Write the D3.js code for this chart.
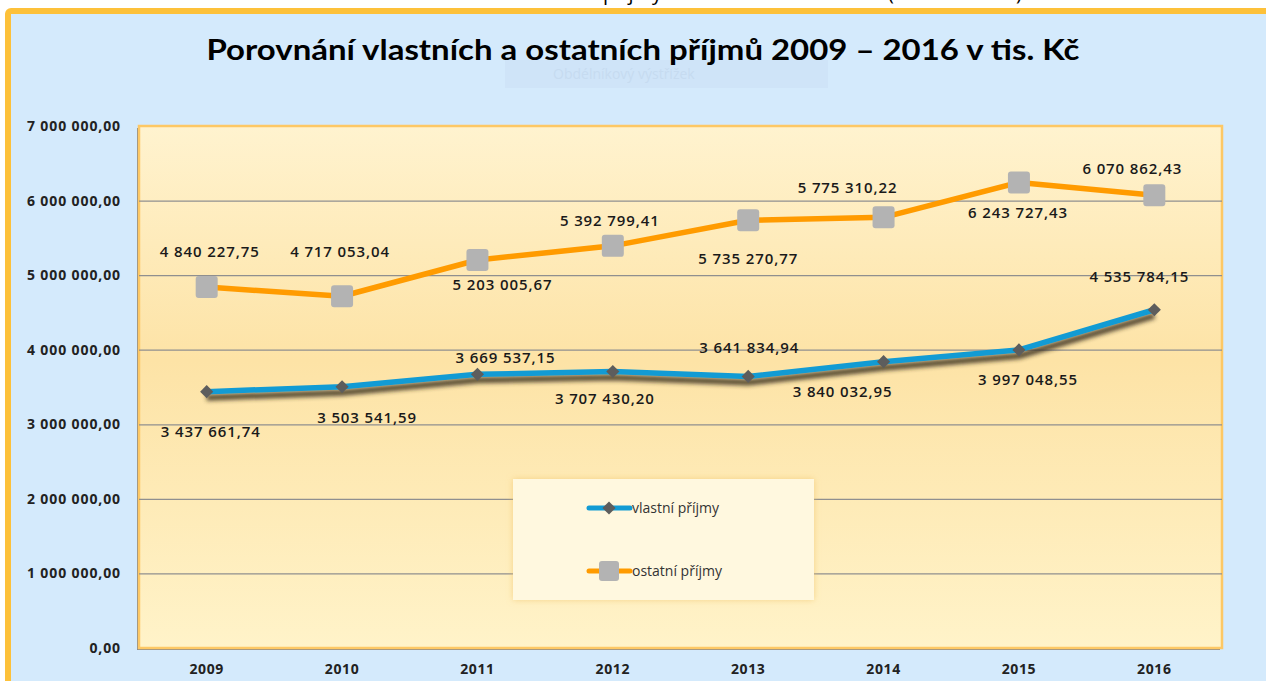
<!DOCTYPE html>
<html>
<head>
<meta charset="utf-8">
<script src="https://cdn.jsdelivr.net/npm/d3@7"></script>
<style>
  html, body { margin: 0; padding: 0; background: #fff; }
  svg { display: block; font-family: "Open Sans", sans-serif; }
</style>
</head>
<body>
<script>
// data
var years = ["2009", "2010", "2011", "2012", "2013", "2014", "2015", "2016"]
var vlastni = [3437661.74, 3503541.59, 3669537.15, 3707430.20, 3641834.94, 3840032.95, 3997048.55, 4535784.15]
var ostatni = [4840227.75, 4717053.04, 5203005.67, 5392799.41, 5735270.77, 5775310.22, 6243727.43, 6070862.43]
var yTicks = [0, 1000000, 2000000, 3000000, 4000000, 5000000, 6000000, 7000000]
var seriesNames = ["vlastní příjmy", "ostatní příjmy"]

// label nudges (layout only)
var vlastniLabelDx = [4, 25, 28, -8, 1, -41, 9, -15]
var vlastniLabelDy = [40, 31, -17, 27, -29, 30, 30, -33]
var ostatniLabelDx = [3, -2, 25, -3, 0, -36, -1, -22]
var ostatniLabelDy = [-35, -44, 25, -25, 38, -30, 30, -27]

var W = 1266, H = 681
var plot = {left: 139, top: 126, right: 1222, bottom: 648}

var fmt = d3.formatLocale({decimal: ",", thousands: " ", grouping: [3], currency: ["", ""]}).format(",.2f")

var svg = d3.select("body").append("svg")
    .attr("width", W)
    .attr("height", H)

var defs = svg.append("defs")

var grad = defs.append("linearGradient")
    .attr("id", "plotGrad")
    .attr("x1", 0).attr("y1", 0).attr("x2", 0).attr("y2", 1)
grad.append("stop").attr("offset", "0%").attr("stop-color", "#fff3cf")
grad.append("stop").attr("offset", "45%").attr("stop-color", "#fde3a6")
grad.append("stop").attr("offset", "100%").attr("stop-color", "#fff3c9")

var blur = defs.append("filter").attr("id", "lineShadow")
    .attr("x", "-10%").attr("y", "-50%").attr("width", "120%").attr("height", "200%")
blur.append("feGaussianBlur").attr("stdDeviation", 2.2)

var boxShadow = defs.append("filter").attr("id", "boxShadow")
    .attr("x", "-10%").attr("y", "-10%").attr("width", "120%").attr("height", "120%")
boxShadow.append("feDropShadow").attr("dx", 0).attr("dy", 0)
    .attr("stdDeviation", 3).attr("flood-color", "#f0c060").attr("flood-opacity", 0.6)

// white strip on top with cut-off text
svg.append("rect").attr("width", W).attr("height", H).attr("fill", "#fff")
svg.append("text").attr("x", 603).attr("y", 0).attr("font-size", 20).attr("fill", "#000")
    .text("příjmy")
svg.append("text").attr("x", 888).attr("y", 0).attr("font-size", 20).attr("fill", "#000")
    .attr("textLength", 134).text("(v tis. Kč)")

// chart background with gold frame
svg.append("rect")
    .attr("x", 8).attr("y", 11).attr("width", W).attr("height", H)
    .attr("rx", 3)
    .attr("fill", "#d4eafc")
    .attr("stroke", "#fdc13a").attr("stroke-width", 6)

// faint ghost tooltip
svg.append("rect").attr("x", 505).attr("y", 60).attr("width", 323).attr("height", 28)
    .attr("fill", "#cfe4f8")
svg.append("text").attr("x", 553).attr("y", 79).attr("font-size", 14)
    .attr("fill", "#c6dbf0").text("Obdélníkový výstřižek")

// title
svg.append("text")
    .attr("x", 643).attr("y", 60)
    .attr("text-anchor", "middle")
    .attr("font-family", "Lato, sans-serif")
    .attr("font-size", 29).attr("font-weight", 700)
    .attr("fill", "#000")
    .attr("textLength", 873).attr("lengthAdjust", "spacingAndGlyphs")
    .text("Porovnání vlastních a ostatních příjmů 2009 – 2016 v tis. Kč")

// scales
var x = d3.scaleBand().domain(years).range([plot.left, plot.right])
var y = d3.scaleLinear().domain([0, 7000000]).range([plot.bottom, plot.top])
var cx = function(d, i) { return x(years[i]) + x.bandwidth() / 2 }

// plot area
svg.append("rect")
    .attr("x", plot.left - 2).attr("y", plot.top + 2)
    .attr("width", plot.right - plot.left).attr("height", plot.bottom - plot.top)
    .attr("fill", "#8a8a8a")
svg.append("rect")
    .attr("x", plot.left).attr("y", plot.top)
    .attr("width", plot.right - plot.left).attr("height", plot.bottom - plot.top)
    .attr("fill", "url(#plotGrad)")
    .attr("stroke", "#fdc865").attr("stroke-width", 2.5)

// gridlines
svg.append("g")
    .attr("transform", "translate(" + plot.left + ",0)")
    .call(d3.axisLeft(y).tickValues(yTicks.slice(1, -1)).tickSize(-(plot.right - plot.left)).tickFormat(""))
    .call(function(g) { g.select(".domain").remove() })
    .selectAll("line").attr("stroke", "#8f8f8f").attr("stroke-width", 1.2)

// y axis labels
svg.append("g")
    .attr("transform", "translate(" + 121 + ",0)")
    .call(d3.axisLeft(y).tickValues(yTicks).tickSize(0).tickPadding(0).tickFormat(fmt))
    .call(function(g) { g.select(".domain").remove() })
    .selectAll("text")
    .attr("font-family", "Open Sans, sans-serif")
    .attr("font-size", 14).attr("font-weight", 700).attr("fill", "#222")
    .attr("letter-spacing", "0.9px")

// x axis labels
svg.append("g")
    .attr("transform", "translate(0," + 664 + ")")
    .call(d3.axisBottom(x).tickSize(0).tickPadding(0))
    .call(function(g) { g.select(".domain").remove() })
    .selectAll("text")
    .attr("font-family", "Open Sans, sans-serif")
    .attr("font-size", 14).attr("font-weight", 700).attr("fill", "#222")
    .attr("letter-spacing", "0.6px")

// legend box
var lg = svg.append("g")
lg.append("rect")
    .attr("x", 513).attr("y", 479).attr("width", 301).attr("height", 121)
    .attr("fill", "#fff8df")
    .attr("filter", "url(#boxShadow)")

var line = d3.line().x(cx).y(function(d) { return y(d) })

// shadow under the blue line
svg.append("path")
    .datum(vlastni)
    .attr("d", line)
    .attr("transform", "translate(0,6)")
    .attr("fill", "none")
    .attr("stroke", "#3a3020").attr("stroke-opacity", 0.85)
    .attr("stroke-width", 6)
    .attr("filter", "url(#lineShadow)")

svg.append("path")
    .datum(vlastni)
    .attr("d", line)
    .attr("fill", "none")
    .attr("stroke", "#129bd4").attr("stroke-width", 5.5)
    .attr("stroke-linejoin", "round")

var diamond = d3.symbol().type(d3.symbolDiamond2).size(110)
svg.selectAll(".vm").data(vlastni).enter().append("path")
    .attr("class", "vm")
    .attr("d", diamond)
    .attr("transform", function(d, i) { return "translate(" + cx(d, i) + "," + y(d) + ")" })
    .attr("fill", "#5d5d5d")

svg.append("path")
    .datum(ostatni)
    .attr("d", line)
    .attr("fill", "none")
    .attr("stroke", "#ff9b00").attr("stroke-width", 5.5)
    .attr("stroke-linejoin", "round")

svg.selectAll(".om").data(ostatni).enter().append("rect")
    .attr("class", "om")
    .attr("x", function(d, i) { return cx(d, i) - 11 })
    .attr("y", function(d) { return y(d) - 11 })
    .attr("width", 22).attr("height", 22).attr("rx", 3)
    .attr("fill", "#b3b3b3")

// data labels
function labels(data, dx, dy, cls) {
  svg.selectAll("." + cls).data(data).enter().append("text")
      .attr("class", cls)
      .attr("x", function(d, i) { return cx(d, i) + dx[i] })
      .attr("y", function(d, i) { return y(d) + dy[i] })
      .attr("dy", "0.35em")
      .attr("text-anchor", "middle")
      .attr("font-size", 15).attr("font-weight", 600)
      .attr("letter-spacing", "0.9px")
      .attr("fill", "#1a1a1a")
      .text(fmt)
}
labels(vlastni, vlastniLabelDx, vlastniLabelDy, "vl")
labels(ostatni, ostatniLabelDx, ostatniLabelDy, "ol")

// legend entries
var e1 = lg.append("g").attr("transform", "translate(589,508)")
e1.append("line").attr("x1", 0).attr("x2", 41).attr("stroke", "#129bd4")
    .attr("stroke-width", 5).attr("stroke-linecap", "round")
e1.append("path").attr("d", diamond).attr("transform", "translate(20,0)").attr("fill", "#5d5d5d")
e1.append("text").attr("x", 43).attr("dy", "0.35em").attr("font-size", 14)
    .attr("fill", "#333").text(seriesNames[0])

var e2 = lg.append("g").attr("transform", "translate(589,571)")
e2.append("line").attr("x1", 0).attr("x2", 41).attr("stroke", "#ff9b00")
    .attr("stroke-width", 5).attr("stroke-linecap", "round")
e2.append("rect").attr("x", 10).attr("y", -10).attr("width", 20).attr("height", 20)
    .attr("rx", 3).attr("fill", "#b3b3b3")
e2.append("text").attr("x", 43).attr("dy", "0.35em").attr("font-size", 14)
    .attr("fill", "#333").text(seriesNames[1])
</script>
</body>
</html>
